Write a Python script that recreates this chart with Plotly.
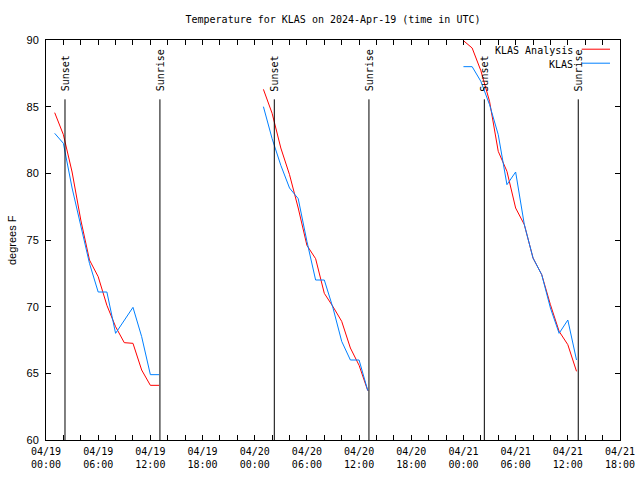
import plotly.graph_objects as go

# ---- data ----
analysis_times = [
    "2024-04-19 01:00", "2024-04-19 02:00", "2024-04-19 03:00", "2024-04-19 04:00",
    "2024-04-19 05:00", "2024-04-19 06:00", "2024-04-19 07:00", "2024-04-19 08:00",
    "2024-04-19 09:00", "2024-04-19 10:00", "2024-04-19 11:00", "2024-04-19 12:00",
    "2024-04-19 13:00", None,
    "2024-04-20 01:00", "2024-04-20 02:00", "2024-04-20 03:00", "2024-04-20 04:00",
    "2024-04-20 05:00", "2024-04-20 06:00", "2024-04-20 07:00", "2024-04-20 08:00",
    "2024-04-20 09:00", "2024-04-20 10:00", "2024-04-20 11:00", "2024-04-20 12:00",
    "2024-04-20 13:00", None,
    "2024-04-21 00:00", "2024-04-21 01:00", "2024-04-21 02:00", "2024-04-21 03:00",
    "2024-04-21 04:00", "2024-04-21 05:00", "2024-04-21 06:00", "2024-04-21 07:00",
    "2024-04-21 08:00", "2024-04-21 09:00", "2024-04-21 10:00", "2024-04-21 11:00",
    "2024-04-21 12:00", "2024-04-21 13:00",
]
analysis_temps = [
    84.55, 82.9, 80.1, 76.5, 73.5, 72.25, 70.1, 68.5, 67.3, 67.25, 65.25, 64.1, 64.1, None,
    86.3, 84.5, 81.9, 79.9, 77.4, 74.6, 73.6, 71.0, 70.0, 68.9, 66.9, 65.6, 63.7, None,
    89.95, 89.4, 87.7, 85.4, 81.65, 80.15, 77.4, 76.15, 73.65, 72.4, 70.15, 68.15, 67.15, 65.15,
]

obs_times = [
    "2024-04-19 01:00", "2024-04-19 02:00", "2024-04-19 03:00", "2024-04-19 04:00",
    "2024-04-19 05:00", "2024-04-19 06:00", "2024-04-19 07:00", "2024-04-19 08:00",
    "2024-04-19 09:00", "2024-04-19 10:00", "2024-04-19 11:00", "2024-04-19 12:00",
    "2024-04-19 13:00", None,
    "2024-04-20 01:00", "2024-04-20 02:00", "2024-04-20 03:00", "2024-04-20 04:00",
    "2024-04-20 05:00", "2024-04-20 06:00", "2024-04-20 07:00", "2024-04-20 08:00",
    "2024-04-20 09:00", "2024-04-20 10:00", "2024-04-20 11:00", "2024-04-20 12:00",
    "2024-04-20 13:00", None,
    "2024-04-21 00:00", "2024-04-21 01:00", "2024-04-21 02:00", "2024-04-21 03:00",
    "2024-04-21 04:00", "2024-04-21 05:00", "2024-04-21 06:00", "2024-04-21 07:00",
    "2024-04-21 08:00", "2024-04-21 09:00", "2024-04-21 10:00", "2024-04-21 11:00",
    "2024-04-21 12:00", "2024-04-21 13:00",
]
obs_temps = [
    83.0, 82.25, 78.9, 76.0, 73.25, 71.1, 71.1, 68.0, 69.0, 69.95, 67.75, 64.9, 64.9, None,
    85.0, 82.6, 80.6, 78.9, 78.1, 74.9, 72.0, 72.0, 69.9, 67.4, 66.0, 66.0, 63.7, None,
    88.0, 88.0, 86.9, 85.15, 82.9, 79.15, 80.1, 76.15, 73.65, 72.4, 69.9, 68.0, 69.0, 66.0,
]

sun_event_times = [
    "2024-04-19 02:11", "2024-04-19 13:06",
    "2024-04-20 02:15", "2024-04-20 13:08",
    "2024-04-21 02:24", "2024-04-21 13:12",
]
sun_event_labels = ["Sunset", "Sunrise", "Sunset", "Sunrise", "Sunset", "Sunrise"]
sun_line_top = 85.55

series_names = ["KLAS Analysis", "KLAS"]
series_colors = ["#ff0000", "#0080ff"]

MONO = "DejaVu Sans Mono"
SANS = "Liberation Sans"

fig = go.Figure()
fig.add_trace(go.Scatter(x=analysis_times, y=analysis_temps, mode="lines",
                         name=series_names[0], line=dict(color=series_colors[0], width=1),
                         connectgaps=False, showlegend=False))
fig.add_trace(go.Scatter(x=obs_times, y=obs_temps, mode="lines",
                         name=series_names[1], line=dict(color=series_colors[1], width=1),
                         connectgaps=False, showlegend=False))

shapes = []
annotations = []
for t, lab in zip(sun_event_times, sun_event_labels):
    shapes.append(dict(type="line", xref="x", yref="y", x0=t, x1=t, y0=60, y1=sun_line_top,
                       line=dict(color="black", width=1)))
    annotations.append(dict(x=t, y=sun_line_top, xref="x", yref="y", text=lab,
                            textangle=-90, showarrow=False, xanchor="center", yanchor="bottom",
                            yshift=6, font=dict(family=MONO, size=10, color="black")))

# legend drawn gnuplot-style: text right-aligned, sample line on the right
leg_y = [0.975, 0.94]
for name, color, ly in zip(series_names, series_colors, leg_y):
    annotations.append(dict(x=0.9216, y=ly, xref="paper", yref="paper", text=name,
                            showarrow=False, xanchor="right", yanchor="middle",
                            font=dict(family=MONO, size=10, color="black")))
    shapes.append(dict(type="line", xref="paper", yref="paper", x0=0.9333, x1=0.9826,
                       y0=ly + 0.002, y1=ly + 0.002, line=dict(color=color, width=1)))

annotations.append(dict(x=-0.0592, y=0.5, xref="paper", yref="paper", text="degrees F",
                        textangle=-90, showarrow=False, xanchor="center", yanchor="middle",
                        font=dict(family=SANS, size=11, color="black")))

fig.update_layout(
    width=640, height=480,
    margin=dict(l=46, r=20, t=40, b=40, autoexpand=False),
    paper_bgcolor="white", plot_bgcolor="white",
    title=dict(text="Temperature for KLAS on 2024-Apr-19 (time in UTC)",
               x=0.5, xref="paper", y=1 - 19 / 480, yref="container",
               xanchor="center", yanchor="middle",
               font=dict(family=MONO, size=10, color="black")),
    shapes=shapes, annotations=annotations,
    xaxis=dict(type="date", range=["2024-04-19 00:00", "2024-04-21 18:00"],
               tick0="2024-04-19 00:00", dtick=6 * 3600 * 1000,
               tickformat="%m/%d<br>%H:%M",
               ticks="inside", ticklen=5, tickcolor="black",
               minor=dict(dtick=2 * 3600 * 1000, ticks="inside", ticklen=5,
                          tickcolor="black", showgrid=False),
               showline=True, linecolor="black", linewidth=1, mirror="ticks",
               showgrid=False, zeroline=False, automargin=False, ticklabelstandoff=2,
               tickfont=dict(family=MONO, size=10, color="black")),
    yaxis=dict(range=[60, 90], dtick=5, tick0=60,
               ticks="inside", ticklen=5, tickcolor="black",
               showline=True, linecolor="black", linewidth=1, mirror="ticks",
               showgrid=False, zeroline=False, ticklabelstandoff=4, automargin=False,
               tickfont=dict(family=SANS, size=11, color="black")),
)

fig.write_html("out.html", config={"displayModeBar": False},
               post_script="document.body.style.margin='0';document.body.style.overflow='hidden';")
